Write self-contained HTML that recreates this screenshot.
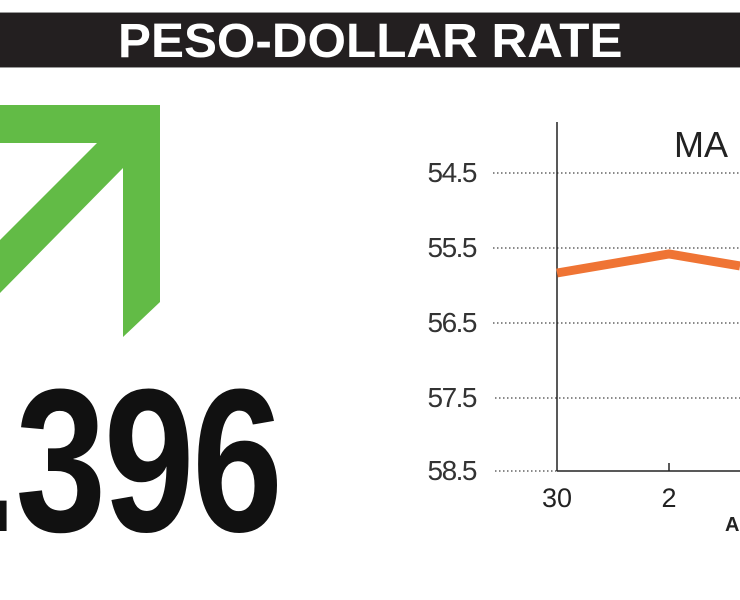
<!DOCTYPE html>
<html><head><style>
body{margin:0;width:740px;height:600px;overflow:hidden;background:#fff;position:relative;font-family:"Liberation Sans",sans-serif}
.ban{position:absolute;left:0;top:12px;width:740px;height:54px;background:#231f20;border-top:1px solid #999;border-bottom:1px solid #999}
.ban span{position:absolute;left:118px;top:1px;color:#fff;font-weight:bold;font-size:48px;white-space:nowrap;transform:scaleX(1.03);transform-origin:left top;}
.num{position:absolute;right:460px;top:359px;font-weight:bold;font-size:204px;line-height:1;color:#111;transform:scaleX(0.8);transform-origin:right top;white-space:nowrap;letter-spacing:-3px}
.yl{position:absolute;right:264px;font-size:28px;color:#333;line-height:1;letter-spacing:-1.5px}
</style></head><body>
<div class="ban"><span>PESO-DOLLAR RATE</span></div>
<div class="num">1.396</div>
<svg width="740" height="600" style="position:absolute;left:0;top:0">
<polygon fill="#62bb46" points="0,105 160,105 160,302 123,337 123,168 0,293 0,240 97,143 0,143"/>
<g stroke="#444" stroke-width="1.2" stroke-dasharray="1.5,2.5">
<line x1="493" y1="173" x2="740" y2="173"/>
<line x1="493" y1="248" x2="740" y2="248"/>
<line x1="493" y1="323" x2="740" y2="323"/>
<line x1="495" y1="398" x2="740" y2="398"/>
<line x1="495" y1="471" x2="557" y2="471"/>
</g>
<line x1="557" y1="122" x2="557" y2="471" stroke="#222" stroke-width="1.5"/>
<line x1="557" y1="471" x2="740" y2="471" stroke="#222" stroke-width="1.5"/>
<line x1="669" y1="463" x2="669" y2="471" stroke="#222" stroke-width="1.5"/>
<polyline points="557,273 669,254 740,266" fill="none" stroke="#ef7434" stroke-width="9"/>
<text x="674" y="157" font-family="Liberation Sans" font-size="36" fill="#222">MA</text>
<text x="557" y="507" font-family="Liberation Sans" font-size="27" fill="#222" text-anchor="middle">30</text>
<text x="669" y="507" font-family="Liberation Sans" font-size="27" fill="#222" text-anchor="middle">2</text>
<text x="725" y="531" font-family="Liberation Sans" font-size="20" font-weight="bold" fill="#222">A</text>
</svg>
<div class="yl" style="top:159px">54.5</div>
<div class="yl" style="top:234px">55.5</div>
<div class="yl" style="top:309px">56.5</div>
<div class="yl" style="top:384px">57.5</div>
<div class="yl" style="top:457px">58.5</div>
</body></html>
